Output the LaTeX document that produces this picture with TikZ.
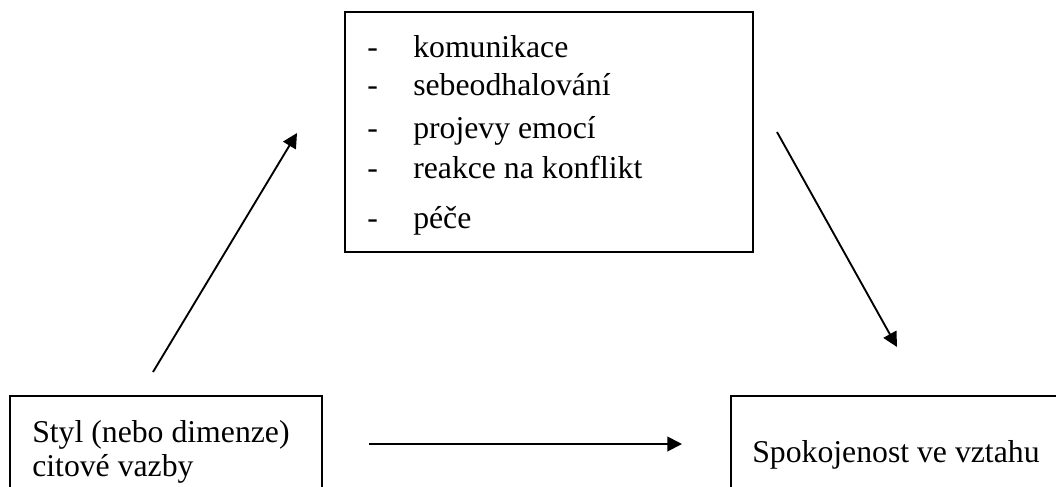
\documentclass[tikz,border=0pt]{standalone}
\usepackage{fontspec}
\setmainfont{Liberation Serif}
\usetikzlibrary{arrows.meta}
\tikzset{
  box/.style={draw, line width=1.4pt, inner sep=0pt},
  item/.style={anchor=base west, inner sep=0pt, font={\fontsize{23.8}{28}\selectfont}},
  link/.style={line width=1.4pt, -{Triangle[length=11pt,width=11pt]}}
}
\begin{document}
\begin{tikzpicture}[x=0.75pt, y=-0.75pt]
    \useasboundingbox (0,0) rectangle (1056,486);
    \clip (0,0) rectangle (1056,486);
      % boxes
      \node[box, minimum width=306pt, minimum height=180pt] (mediators) at (549,132) {};
      \node[box, minimum width=234pt, minimum height=90pt] (attach) at (166,456) {};
      \node[box, minimum width=262pt, minimum height=90pt] (satisf) at (906,456) {};
      % list of mediators
      \foreach \t/\yy [count=\n] in {komunikace/57, sebeodhalování/95, projevy emocí/138, reakce na konflikt/178, péče/228} {
        \node[item] (dash\n) at (367,\yy) {-};
        \node[item] (med\n) at (413,\yy) {\t};
      }
      % box texts
      \node[item] (attachA) at (32,442) {Styl (nebo dimenze)};
      \node[item] (attachB) at (32,476) {citové vazby};
      \node[item] (satisfA) at (752,462) {Spokojenost ve vztahu};
      % arrows
      \coordinate (upS) at (153,372);
      \coordinate (upE) at (297,133);
      \coordinate (downS) at (777,132);
      \coordinate (downE) at (897,347);
      \coordinate (midS) at (369,444);
      \coordinate (midE) at (682,444);
      \draw[link] (upS) -- (upE);
      \draw[link] (downS) -- (downE);
      \draw[link] (midS) -- (midE);
    \end{tikzpicture}
\end{document}
